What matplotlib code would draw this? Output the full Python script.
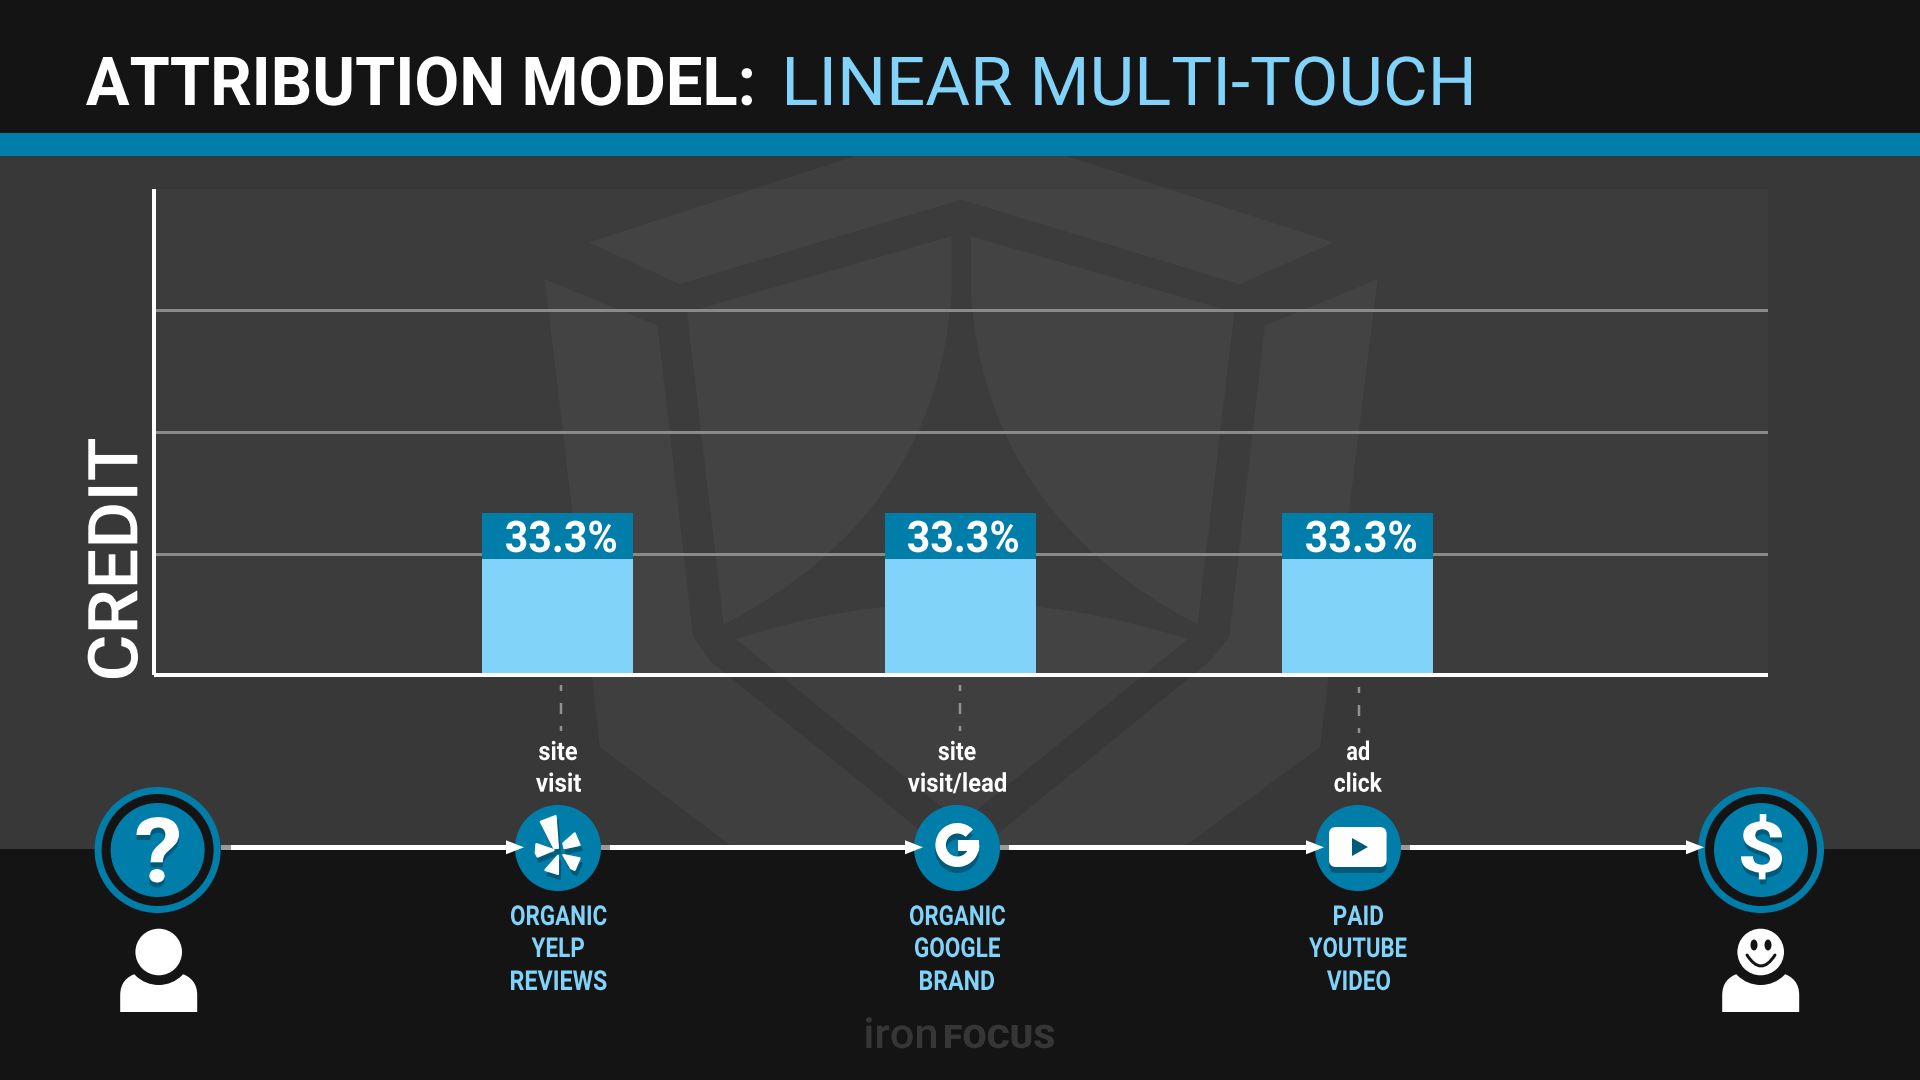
import matplotlib
matplotlib.use("Agg")
import matplotlib.pyplot as plt
import matplotlib.patheffects as pe
from matplotlib.colors import to_rgba
from matplotlib.patches import Circle, Ellipse, Polygon, PathPatch, Rectangle, FancyBboxPatch, Wedge
from matplotlib.path import Path
from matplotlib.textpath import TextPath
from matplotlib.font_manager import FontProperties
from matplotlib.transforms import Affine2D

# chart data
credit = [33.3, 33.3, 33.3]
grid_levels = [25, 50, 75]
events = [["site", "visit"], ["site", "visit/lead"], ["ad", "click"]]
channels = [["ORGANIC", "YELP", "REVIEWS"], ["ORGANIC", "GOOGLE", "BRAND"], ["PAID", "YOUTUBE", "VIDEO"]]
title_left = "ATTRIBUTION MODEL:"
title_right = "LINEAR MULTI-TOUCH"
y_title = "CREDIT"

# colours
BLACK = "#141414"
BASE = "#383838"
BLUE = "#017daa"
LIGHT = "#82d3fa"
SHADOW = "#005a7a"
WHITE = "#ffffff"
GRID = "#8a8a8a"
FONT = "Roboto"

PX = 0.72  # points per pixel at dpi 100

plt.rcParams["lines.scale_dashes"] = False

fig = plt.figure(figsize=(19.2, 10.8), dpi=100, facecolor=BASE)


def pixel_axes(zorder):
    a = fig.add_axes([0, 0, 1, 1], zorder=zorder)
    a.set_xlim(0, 1920)
    a.set_ylim(1080, 0)
    a.axis("off")
    return a


class Squeeze(pe.AbstractPathEffect):
    # narrows the glyphs (no installed font is as narrow as the original), can add a drop shadow
    def __init__(self, sx, shadow=None):
        super().__init__()
        self.sx = sx
        self.shadow = shadow

    def draw_path(self, renderer, gc, tpath, affine, rgbFace=None):
        squeezed = Affine2D().scale(self.sx, 1) + affine
        if self.shadow:
            dx, dy, color = self.shadow
            renderer.draw_path(gc, tpath, squeezed + Affine2D().translate(dx, -dy), to_rgba(color))
        renderer.draw_path(gc, tpath, squeezed, rgbFace)


def fit_text(a, s, start, end, base, cap, color=WHITE, weight="bold", rotated=False, shadow=None, zorder=5):
    fp = FontProperties(family=FONT, weight=weight)
    cap_ref = TextPath((0, 0), "H", size=100, prop=fp).get_extents().height
    size = cap / cap_ref * 100
    ink = TextPath((0, 0), s, size=size, prop=fp).get_extents()
    sx = abs(end - start) / ink.width
    kw = dict(color=color, fontproperties=fp, fontsize=size * PX, va="baseline", ha="left",
              rotation_mode="anchor", path_effects=[Squeeze(sx, shadow)], zorder=zorder)
    if rotated:
        return a.text(base, start + ink.x0 * sx, s, rotation=90, **kw)
    return a.text(start - ink.x0 * sx, base, s, **kw)


# background with the faint logo, traced at 1568 px wide
back = pixel_axes(0)
WM = 1920 / 1568


def wm_shape(verts, codes=None):
    verts = [(x * WM, y * WM) for x, y in verts]
    if codes is None:
        codes = [Path.MOVETO] + [Path.LINETO] * (len(verts) - 2) + [Path.CLOSEPOLY]
    back.add_patch(PathPatch(Path(verts, codes), fc=WHITE, ec="none", alpha=0.035, zorder=1))


L, Q = Path.LINETO, Path.CURVE3
M, C = Path.MOVETO, Path.CLOSEPOLY
# top chevron
wm_shape([(481, 198), (700, 127), (870, 127), (1089, 198), (1012, 232), (785, 163), (555, 232), (481, 198)])
# outer left and right slivers
wm_shape([(445, 228), (537, 266), (566, 520), (580, 540), (770, 693), (600, 693), (490, 610), (445, 228)])
wm_shape([(1125, 228), (1033, 266), (1004, 520), (988, 540), (800, 693), (965, 693), (1078, 610), (1125, 228)])
# inner left, right and bottom
wm_shape([(561, 255), (777, 193), (777, 240), (765, 420), (591, 510), (561, 255)], [M, L, L, Q, Q, C])
wm_shape([(1008, 255), (793, 193), (793, 240), (805, 420), (978, 510), (1008, 255)], [M, L, L, Q, Q, C])
wm_shape([(601, 522), (785, 462), (970, 522), (785, 672), (601, 522)], [M, Q, Q, L, C])

# plot panel
back.add_patch(Rectangle((153, 189), 1615, 486, fc=WHITE, ec="none", alpha=0.025, zorder=2))
# header, band, footer
back.add_patch(Rectangle((0, 0), 1920, 133, fc=BLACK, ec="none", zorder=3))
back.add_patch(Rectangle((0, 133), 1920, 23, fc=BLUE, ec="none", zorder=3))
back.add_patch(Rectangle((0, 848.5), 1920, 232, fc=BLACK, ec="none", zorder=3))

# the chart itself
AX_L, AX_R, AX_T, AX_B = 154.3, 1768, 189, 675.3
PX_PER_PCT = 4.867
ax = fig.add_axes([AX_L / 1920, (1080 - AX_B) / 1080, (AX_R - AX_L) / 1920, (AX_B - AX_T) / 1080], zorder=1)
ax.patch.set_visible(False)
touch = list(range(len(credit)))
nudge = [-1 / 400, 1.5 / 400, -1 / 400]
bar_x = [t + n for t, n in zip(touch, nudge)]
band = 46 / PX_PER_PCT
bar_w = 151 / 400
ax.bar(bar_x, credit, width=bar_w, color=LIGHT, zorder=3)
ax.bar(bar_x, [band] * len(credit), bottom=[c - band for c in credit], width=bar_w, color=BLUE, zorder=3)
ax.set_xlim((AX_L - 558.5) / 400, (AX_R - 558.5) / 400)
ax.set_ylim(0, (AX_B - AX_T) / PX_PER_PCT)
ax.set_yticks(grid_levels)
ax.set_xticks([])
ax.tick_params(left=False, labelleft=False)
ax.grid(axis="y", color=GRID, linewidth=3 * PX)
ax.set_axisbelow(True)
for side in ["top", "right"]:
    ax.spines[side].set_visible(False)
for side in ["left", "bottom"]:
    ax.spines[side].set_color(WHITE)
    ax.spines[side].set_linewidth(4 * PX)
    ax.spines[side].set_capstyle("butt")
    ax.spines[side].set_zorder(5)

top = pixel_axes(2)

# title and y label
fit_text(top, title_left, 86, 752, 105, 48)
fit_text(top, title_right, 787, 1471, 105, 48, color=LIGHT, weight="normal")
fit_text(top, y_title, 678, 439, 137.3, 49, weight="medium", rotated=True)

# percent labels inside the bars
label_spans = [(506, 616), (908, 1018), (1306, 1416)]
for value, (x0, x1) in zip(credit, label_spans):
    fit_text(top, f"{value:.1f}%", x0, x1, 552, 31)

# dashed drop lines from the bars
drop_x = [560.6, 959.5, 1358.6]
drop_y0 = [685, 685, 687]
for x, y0 in zip(drop_x, drop_y0):
    top.plot([x, x], [y0, y0 + 46], color="#929292", lw=2.5 * PX, solid_capstyle="butt",
             dash_capstyle="butt", linestyle=(5 * PX, (11 * PX, 12 * PX)))

# event and channel labels, (left, right) of each line
event_spans = [[(539, 577), (536, 581)], [(938.5, 975.6), (908, 1006)], [(1347, 1369), (1334.5, 1382)]]
event_base = [760, 791.7]
channel_spans = [[(511, 606.5), (531.5, 584), (511, 606.5)],
                 [(910, 1005), (915, 1000), (920, 994)],
                 [(1334, 1383), (1309, 1406.5), (1327, 1390)]]
channel_base = [925, 957, 990]
for i in touch:
    for line, span, base in zip(events[i], event_spans[i], event_base):
        fit_text(top, line, span[0], span[1], base, 18.5)
    for line, span, base in zip(channels[i], channel_spans[i], channel_base):
        fit_text(top, line, span[0], span[1], base, 19.5, color=LIGHT)

# journey line: grey stub, white run, arrow head
LINE_Y = 847.3
runs = [(221, 231, 524), (601, 610, 923), (1000, 1009, 1324), (1401, 1410, 1704)]
for stub0, stub1, tip in runs:
    top.add_patch(Rectangle((stub0, LINE_Y - 2.5), stub1 - stub0, 5, fc="#9a9a9a", ec="none", zorder=2))
    top.add_patch(Rectangle((stub1, LINE_Y - 2.5), tip - 15 - stub1, 5, fc=WHITE, ec="none", zorder=2))
    top.add_patch(Polygon([(tip, LINE_Y), (tip - 18, LINE_Y - 7), (tip - 18, LINE_Y + 7)], fc=WHITE, ec="none", zorder=4))

# end rings
for cx in [157.6, 1761]:
    top.add_patch(Circle((cx, 850), 63, fc=BLUE, ec="none", zorder=3))
    top.add_patch(Circle((cx, 850), 56, fc=BLACK, ec="none", zorder=3))
    top.add_patch(Circle((cx, 850), 47, fc=BLUE, ec="none", zorder=3))

# touch circles
touch_cx = [558, 957, 1358]
for cx in touch_cx:
    top.add_patch(Circle((cx, 848), 43, fc=BLUE, ec="none", zorder=3))

fit_text(top, "?", 136.5, 179, 882, 64, shadow=(0, 5, SHADOW))
fit_text(top, "$", 1741, 1782, 872, 50, shadow=(1, 5, SHADOW))

# yelp burst
petals = [
    [(540.7, 821.7), (555.6, 816), (558, 848), (554, 848)],
    [(563.3, 843.3), (574.7, 833.3), (579.7, 845), (564.4, 848.3)],
    [(563.3, 855), (579.7, 858.3), (574.7, 870), (571, 868.3)],
    [(558, 855.7), (558, 874), (545.3, 870)],
    [(536.4, 844), (553.7, 850), (537.6, 856.7), (535.7, 853)],
]
for petal in petals:
    top.add_patch(Polygon([(x + 2, y + 5) for x, y in petal], fc=SHADOW, ec=SHADOW, lw=1.5, joinstyle="round", zorder=4))
for petal in petals:
    top.add_patch(Polygon(petal, fc=WHITE, ec=WHITE, lw=1.5, joinstyle="round", zorder=5))

# google G, ring with a bar
for dy, col, z in [(6, SHADOW, 4), (0, WHITE, 5)]:
    top.add_patch(Wedge((957.4, 845 + dy), 22, 0, 315, width=10.5, fc=col, ec="none", zorder=z))
    top.add_patch(Rectangle((957.6, 840 + dy), 21.8, 11, fc=col, ec="none", zorder=z))

# youtube button
top.add_patch(FancyBboxPatch((1333, 837), 49.6, 32, boxstyle="round,pad=4,rounding_size=7", fc=SHADOW, ec="none", zorder=4))
top.add_patch(FancyBboxPatch((1333, 831), 49.6, 32, boxstyle="round,pad=4,rounding_size=7", fc=WHITE, ec="none", zorder=5))
top.add_patch(Polygon([(1352, 838), (1368, 847), (1352, 856)], fc=SHADOW, ec="none", zorder=6))


# people under the end rings
def person(cx):
    body = Path(
        [(cx - 38.5, 1012), (cx - 38.5, 995), (cx - 38.5, 978), (cx - 21, 973), (cx + 21, 973),
         (cx + 38.5, 978), (cx + 38.5, 995), (cx + 38.5, 1012), (cx - 38.5, 1012)],
        [M, L, Q, Q, L, Q, Q, L, C])
    top.add_patch(PathPatch(body, fc=WHITE, ec="none", zorder=3))
    top.add_patch(Circle((cx, 952), 33, fc=BLACK, ec="none", zorder=4))
    top.add_patch(Circle((cx, 952), 23.3, fc=WHITE, ec="none", zorder=5))


person(158.7)
person(1760.7)
# smile on the right one
for ex in [1754, 1768]:
    top.add_patch(Ellipse((ex, 945), 7, 11, fc=BLACK, ec="none", zorder=6))
smile = Path([(1747, 955), (1761, 977), (1775, 955)], [M, Q, Q])
top.add_patch(PathPatch(smile, fc="none", ec=BLACK, lw=3 * PX, capstyle="round", zorder=6))

# logo in the footer
fit_text(top, "iron", 866, 936, 1048, 30, color="#363636", weight="medium")
fit_text(top, "FOCUS", 945, 1054, 1048, 23, color="#363636", weight="black")

fig.savefig("out.png", dpi=100, facecolor=fig.get_facecolor())
